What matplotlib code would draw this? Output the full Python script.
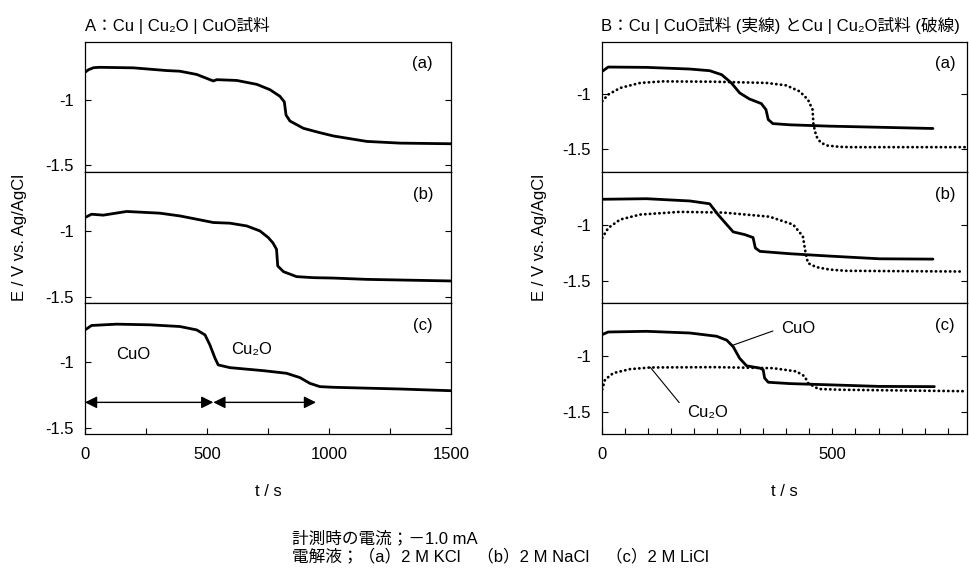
import matplotlib
matplotlib.use("Agg")
from matplotlib import pyplot as plt
from matplotlib.ticker import MultipleLocator

plt.rcParams['font.family'] = ['Liberation Sans', 'Noto Sans CJK JP', 'DejaVu Sans']

# A: Cu|Cu2O|CuO sample
a_t = [0, 15, 35, 60, 198, 335, 389, 458, 526, 540, 622, 704, 758, 799, 817, 824, 840, 895,
       963, 1018, 1155, 1291, 1500]
a_e = [-0.785, -0.765, -0.750, -0.747, -0.751, -0.772, -0.777, -0.802, -0.852, -0.842, -0.848,
       -0.878, -0.919, -0.970, -1.013, -1.114, -1.160, -1.216, -1.250, -1.275, -1.317, -1.330,
       -1.335]

b_t = [0, 27, 75, 171, 307, 389, 458, 526, 594, 663, 717, 751, 770, 785, 790, 813, 867, 936,
       1018, 1155, 1500]
b_e = [-0.898, -0.873, -0.880, -0.852, -0.865, -0.886, -0.911, -0.936, -0.941, -0.962, -1.000,
       -1.050, -1.090, -1.139, -1.266, -1.309, -1.347, -1.355, -1.358, -1.368, -1.380]

c_t = [0, 27, 130, 266, 389, 458, 492, 512, 533, 546, 594, 731, 826, 881, 922, 963, 1018,
       1291, 1500]
c_e = [-0.753, -0.719, -0.709, -0.714, -0.727, -0.753, -0.791, -0.868, -0.969, -1.020, -1.041,
       -1.064, -1.084, -1.117, -1.161, -1.186, -1.191, -1.204, -1.217]

# B: Cu|CuO (solid) and Cu|Cu2O (dotted)
ba_t = [1, 14, 97, 191, 234, 260, 281, 299, 320, 346, 356, 361, 371, 408, 494, 602, 718]
ba_e = [-0.797, -0.758, -0.761, -0.776, -0.791, -0.827, -0.901, -0.991, -1.045, -1.087,
        -1.141, -1.231, -1.267, -1.278, -1.290, -1.300, -1.311]
ba2_t = [1, 14, 40, 83, 133, 242, 357, 400, 429, 447, 457, 459, 465, 475, 490, 515, 540, 790]
ba2_e = [-1.066, -1.006, -0.946, -0.901, -0.887, -0.890, -0.901, -0.923, -0.977, -1.051,
         -1.141, -1.276, -1.380, -1.440, -1.465, -1.476, -1.479, -1.479]

bb_t = [1, 97, 191, 234, 252, 271, 285, 310, 328, 333, 343, 408, 494, 602, 718]
bb_e = [-0.775, -0.770, -0.790, -0.815, -0.911, -1.000, -1.065, -1.089, -1.115, -1.208,
        -1.238, -1.259, -1.280, -1.304, -1.307]
bb2_t = [1, 14, 40, 83, 169, 263, 364, 415, 436, 442, 447, 465, 494, 530, 776]
bb2_e = [-1.119, -1.030, -0.955, -0.911, -0.887, -0.893, -0.930, -1.000, -1.104, -1.253,
         -1.342, -1.378, -1.400, -1.411, -1.417]

bc_t = [1, 14, 97, 191, 249, 271, 285, 299, 314, 343, 350, 353, 361, 408, 494, 602, 721]
bc_e = [-0.809, -0.786, -0.780, -0.795, -0.824, -0.859, -0.918, -1.021, -1.088, -1.109,
        -1.123, -1.197, -1.235, -1.247, -1.258, -1.272, -1.274]
bc2_t = [1, 7, 25, 61, 105, 242, 371, 422, 440, 447, 458, 470, 520, 790]
bc2_e = [-1.300, -1.212, -1.153, -1.118, -1.103, -1.100, -1.109, -1.138, -1.182, -1.241,
         -1.268, -1.295, -1.302, -1.315]

panel_names = ['(a)', '(b)', '(c)']
yticks = [-1, -1.5]
ytick_labels = ['-1', '-1.5']
fs = 12

fig = plt.figure(figsize=(9.69, 5.72), dpi=100)

bottoms = [0.6998, 0.4697, 0.2407]
heights = [0.2273, 0.2301, 0.2290]

left_axes = []
right_axes = []
for i in range(3):
    left_axes.append(fig.add_axes([0.0877, bottoms[i], 0.3777, heights[i]]))
    right_axes.append(fig.add_axes([0.6210, bottoms[i], 0.3770, heights[i]]))

left_data = [(a_t, a_e), (b_t, b_e), (c_t, c_e)]
right_data = [(ba_t, ba_e, ba2_t, ba2_e), (bb_t, bb_e, bb2_t, bb2_e), (bc_t, bc_e, bc2_t, bc2_e)]

for i, ax in enumerate(left_axes):
    t, e = left_data[i]
    ax.plot(t, e, color='black', lw=2.0, solid_joinstyle='round', solid_capstyle='round')
    ax.set_xlim(0, 1500)
    ax.set_ylim(-1.55, -0.55)

for i, ax in enumerate(right_axes):
    t1, e1, t2, e2 = right_data[i]
    ax.plot(t1, e1, color='black', lw=2.0, solid_joinstyle='round', solid_capstyle='round')
    ax.plot(t2, e2, color='black', lw=2.0, linestyle=(0, (0.1, 1.6)), dash_capstyle='round')
    ax.set_xlim(0, 792)
    ax.set_ylim(-1.70, -0.53)

for axes, px in ((left_axes, 0.923), (right_axes, 0.94)):
    for i, ax in enumerate(axes):
        ax.set_yticks(yticks)
        ax.set_yticklabels(ytick_labels)
        ax.tick_params(axis='y', direction='in', right=True, length=4, width=0.8,
                       labelsize=fs, pad=8)
        for sp in ax.spines.values():
            sp.set_linewidth(0.9)
        ax.text(px, 0.83, panel_names[i], transform=ax.transAxes, ha='center',
                va='center', fontsize=fs)
        if i < 2:
            ax.set_xticks([])
        else:
            ax.tick_params(axis='x', which='both', direction='in', length=4, width=0.8,
                           labelsize=fs, pad=9)

left_axes[2].set_xticks([0, 500, 1000, 1500])
left_axes[2].xaxis.set_minor_locator(MultipleLocator(250))
right_axes[2].set_xticks([0, 500])
right_axes[2].xaxis.set_minor_locator(MultipleLocator(50))

left_axes[2].set_xlabel('t / s', fontsize=fs, labelpad=16)
right_axes[2].set_xlabel('t / s', fontsize=fs, labelpad=16)

left_axes[1].set_ylabel('E / V vs. Ag/AgCl', fontsize=fs, labelpad=13)
right_axes[1].set_ylabel('E / V vs. Ag/AgCl', fontsize=fs, labelpad=11)

# annotations on A(c)
axc = left_axes[2]
for start, end in ((0, 526), (526, 947)):
    axc.annotate('', xy=(start, -1.306), xytext=(end, -1.306),
                 arrowprops=dict(arrowstyle='<|-|>', color='black', lw=1.0,
                                 mutation_scale=18, shrinkA=0, shrinkB=0))
axc.text(198, -0.944, 'CuO', ha='center', va='center', fontsize=fs)
axc.text(683, -0.90, 'Cu\u2082O', ha='center', va='center', fontsize=fs)

# annotations on B(c)
axr = right_axes[2]
axr.annotate('', xy=(285, -0.903), xytext=(371, -0.777),
             arrowprops=dict(arrowstyle='-', color='black', lw=0.8, shrinkA=0, shrinkB=0))
axr.text(425, -0.753, 'CuO', ha='center', va='center', fontsize=fs)
axr.annotate('', xy=(105, -1.10), xytext=(168, -1.417),
             arrowprops=dict(arrowstyle='-', color='black', lw=0.8, shrinkA=0, shrinkB=0))
axr.text(229, -1.505, 'Cu\u2082O', ha='center', va='center', fontsize=fs)

fig.text(0.0877, 0.956, 'A：Cu | Cu\u2082O | CuO試料', fontsize=fs, ha='left', va='center')
fig.text(0.6200, 0.956, 'B：Cu | CuO試料 (実線) とCu | Cu\u2082O試料 (破線)', fontsize=fs,
         ha='left', va='center')

fig.text(0.301, 0.0428, '計測時の電流；－1.0 mA\n電解液；（a）2 M KCl　（b）2 M NaCl　（c）2 M LiCl',
         fontsize=fs, ha='left', va='center', linespacing=1.1)

fig.savefig('out.png', dpi=100)
